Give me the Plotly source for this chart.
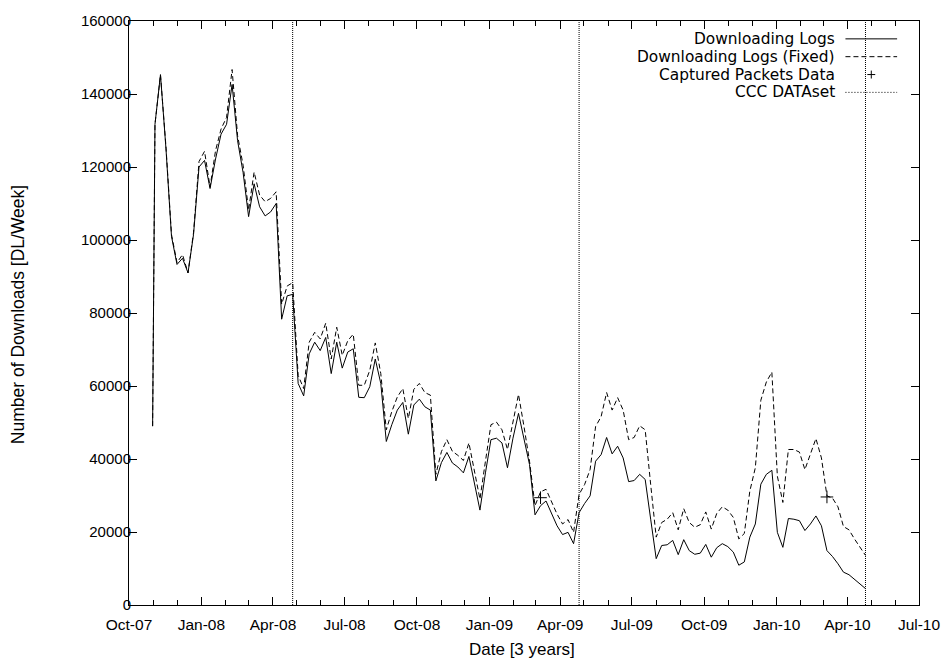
import pandas as pd
import plotly.graph_objects as go

# ---- data ----
first_date = ["2007-10-31"]
weekly_dates = [d.strftime("%Y-%m-%d") for d in pd.date_range("2007-11-03", periods=130, freq="7D")]
dates = first_date + weekly_dates

downloads = [
    49000,
    131700, 145300, 125000, 101000, 93300, 95000, 91000, 101500, 120000, 121800,
    114100, 122200, 129000, 131700, 142600, 127200, 118500, 106400, 115400, 109100,
    106600, 107700, 110000, 78300, 84700, 85100, 60700, 57300, 68800, 72000,
    69700, 73300, 63400, 72000, 64900, 69300, 70200, 56900, 56800, 59800,
    67400, 60700, 44800, 49400, 53400, 55500, 46800, 54800, 56400, 54300,
    53400, 34000, 39000, 41800, 38900, 37800, 36200, 40700, 33500, 26000,
    36200, 45300, 45700, 44400, 37600, 45700, 52500, 45700, 38500, 24700,
    27200, 28500, 24900, 21700, 19300, 19900, 16800, 25300, 27800, 29900,
    39400, 41200, 45900, 41400, 43500, 40300, 33800, 34100, 35800, 34400,
    23500, 12700, 16300, 16500, 17700, 13800, 17900, 14900, 13900, 14200,
    16600, 13100, 15700, 16800, 16000, 14500, 10900, 11800, 18600, 22200,
    33100, 35800, 36900, 19900, 15800, 23700, 23500, 23100, 20400, 22200,
    24400, 21700, 14900, 13300, 11300, 9000, 8300, 7000, 5700, 4500,
]

downloads_fixed = [
    49000,
    131700, 145300, 125500, 101500, 93800, 96000, 91000, 102000, 121500, 124300,
    114500, 124500, 130400, 133600, 146700, 128600, 120500, 108200, 118600, 112300,
    110500, 111400, 113200, 82400, 87400, 88300, 62900, 59300, 72000, 74700,
    72900, 77200, 67400, 76100, 68400, 72400, 74200, 60200, 60200, 64300,
    71800, 63400, 48000, 53000, 57000, 59300, 51100, 59100, 60700, 58200,
    57500, 35800, 42000, 45300, 42100, 41000, 39600, 44400, 36700, 29000,
    39400, 49400, 50100, 48000, 42600, 50300, 57700, 48900, 39400, 27200,
    31000, 31700, 28100, 24900, 22200, 23400, 19900, 30300, 33000, 37100,
    48900, 51600, 58200, 53400, 56800, 53400, 45300, 45900, 49100, 48000,
    33000, 18600, 22600, 23500, 25300, 20600, 26400, 22600, 21300, 22000,
    25500, 20800, 25100, 26900, 26000, 24000, 18100, 19600, 31200, 37600,
    56100, 61100, 63800, 35300, 28100, 42600, 42600, 41900, 37100, 41200,
    45600, 40300, 29900, 29300, 26900, 21500, 20600, 18100, 15800, 13600,
]

captured_dates = ["2009-03-07", "2010-03-06"]
captured_values = [29400, 29600]

ccc_dates = ["2008-04-26", "2009-04-25", "2010-04-24"]
y_min, y_max = 0, 160000

tick_dates = pd.date_range("2007-10-01", "2010-07-01", freq="3MS")
tick_vals = [d.strftime("%Y-%m-%d") for d in tick_dates]
tick_text = [d.strftime("%b-%y") for d in tick_dates]

legend_labels = ["Downloading Logs", "Downloading Logs (Fixed)", "Captured Packets Data", "CCC DATAset"]
x_title = "Date [3 years]"
y_title = "Number of Downloads [DL/Week]"

# ---- figure ----
FONT = "Liberation Sans, Arial, Helvetica, sans-serif"
KEYFONT = "DejaVu Sans, Liberation Sans, sans-serif"
fig = go.Figure()

fig.add_trace(go.Scatter(x=dates, y=downloads, mode="lines",
                         line=dict(color="black", width=1), name=legend_labels[0]))
fig.add_trace(go.Scatter(x=dates, y=downloads_fixed, mode="lines",
                         line=dict(color="black", width=1, dash="5px,3px"), name=legend_labels[1]))
fig.add_trace(go.Scatter(x=captured_dates, y=captured_values, mode="markers",
                         marker=dict(symbol="cross-thin", size=9, line=dict(color="black", width=1)),
                         name=legend_labels[2]))
vx, vy = [], []
for d in ccc_dates:
    vx += [d, d, None]
    vy += [y_min, y_max, None]
fig.add_trace(go.Scatter(x=vx, y=vy, mode="lines",
                         line=dict(color="black", width=1, dash="1px,1px"), name=legend_labels[3]))

# custom gnuplot-style key (text right-aligned, sample to the right)
row_y = [0.9694, 0.9389, 0.9083, 0.8778]
tx = 0.8966
sx0, sx1 = 0.9069, 0.9723
annotations = []
shapes = []
for lab, ry in zip(legend_labels, row_y):
    annotations.append(dict(x=tx, y=ry, xref="paper", yref="paper", text=lab, showarrow=False,
                            xanchor="right", yanchor="middle",
                            font=dict(family=KEYFONT, size=15.4, color="black")))
shapes.append(dict(type="line", xref="paper", yref="paper", x0=sx0, x1=sx1, y0=row_y[0], y1=row_y[0],
                   line=dict(color="black", width=1)))
shapes.append(dict(type="line", xref="paper", yref="paper", x0=sx0, x1=sx1, y0=row_y[1], y1=row_y[1],
                   line=dict(color="black", width=1, dash="5px,3px")))
pcx = (sx0 + sx1) / 2
shapes.append(dict(type="line", xref="paper", yref="paper", x0=pcx - 0.005, x1=pcx + 0.005,
                   y0=row_y[2], y1=row_y[2], line=dict(color="black", width=1)))
shapes.append(dict(type="line", xref="paper", yref="paper", x0=pcx, x1=pcx,
                   y0=row_y[2] - 0.0068, y1=row_y[2] + 0.0068, line=dict(color="black", width=1)))
shapes.append(dict(type="line", xref="paper", yref="paper", x0=sx0, x1=sx1, y0=row_y[3], y1=row_y[3],
                   line=dict(color="black", width=1, dash="1px,2px")))

# axis titles
annotations.append(dict(x=0.498, y=-0.0764, xref="paper", yref="paper", text=x_title, showarrow=False,
                        xanchor="center", yanchor="middle", font=dict(family=FONT, size=17, color="black")))
annotations.append(dict(x=-0.1396, y=0.4975, xref="paper", yref="paper", text=y_title, showarrow=False,
                        textangle=-90, xanchor="center", yanchor="middle",
                        font=dict(family=FONT, size=17.5, color="black")))

fig.update_layout(
    width=952, height=664,
    margin=dict(l=129, r=28, t=13, b=59),
    paper_bgcolor="white", plot_bgcolor="white",
    showlegend=False,
    font=dict(family=FONT, size=15, color="black"),
    annotations=annotations, shapes=shapes,
)
fig.update_xaxes(
    range=["2007-10-01", "2010-07-01"],
    tickmode="array", tickvals=tick_vals, ticktext=tick_text,
    ticks="inside", ticklen=8, tickcolor="black", tickwidth=1,
    minor=dict(dtick="M1", tick0="2007-10-01", ticks="inside", ticklen=5, tickcolor="black", showgrid=False),
    showline=True, linecolor="black", linewidth=1, mirror="ticks",
    showgrid=False, zeroline=False,
    tickfont=dict(family=FONT, size=15.5),
    ticklabelstandoff=5,
)
fig.update_yaxes(
    range=[y_min, y_max], dtick=20000, tick0=0, tickformat="d",
    ticks="inside", ticklen=8, tickcolor="black", tickwidth=1,
    showline=True, linecolor="black", linewidth=1, mirror="ticks",
    showgrid=False, zeroline=False,
    tickfont=dict(family=FONT, size=15),
    ticklabelstandoff=-6,
)

fig.write_html("out.html")
